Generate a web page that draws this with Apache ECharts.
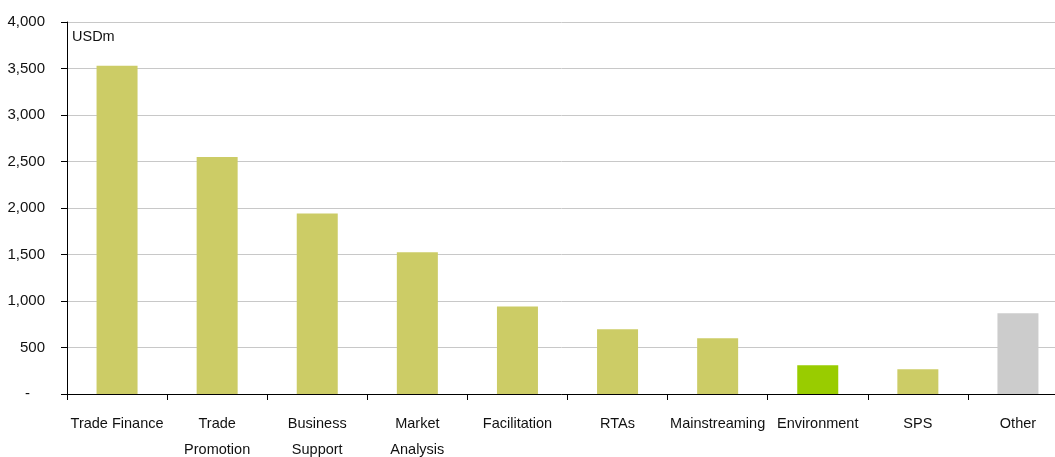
<!DOCTYPE html>
<html>
<head>
<meta charset="utf-8">
<script src="https://cdn.jsdelivr.net/npm/echarts@6/dist/echarts.min.js"></script>
<style>
html,body{margin:0;padding:0;background:#fff;}
#chart{width:1055px;height:457px;}
</style>
</head>
<body>
<div id="chart"></div>
<script>
const categories = ['Trade Finance', 'Trade\nPromotion', 'Business\nSupport', 'Market\nAnalysis', 'Facilitation', 'RTAs', 'Mainstreaming', 'Environment', 'SPS', 'Other'];
const values = [3530, 2548, 1940, 1525, 940, 697, 600, 309, 266, 869];
const barColors = ['#CCCC66', '#CCCC66', '#CCCC66', '#CCCC66', '#CCCC66', '#CCCC66', '#CCCC66', '#99CC00', '#CCCC66', '#CCCCCC'];
const yTicks = [0, 500, 1000, 1500, 2000, 2500, 3000, 3500, 4000];
const unitLabel = 'USDm';

const chart = echarts.init(document.getElementById('chart'), null, {renderer: 'canvas'});
const font = '"Liberation Sans", Arial, sans-serif';
chart.setOption({
  animation: false,
  grid: {left: 67, right: -13, top: 22, bottom: 63, containLabel: false, outerBoundsMode: 'none'},
  xAxis: {
    type: 'category',
    data: categories,
    axisLine: {lineStyle: {color: '#000', width: 1}},
    axisTick: {show: true, length: 6, lineStyle: {color: '#000'}, alignWithLabel: false},
    axisLabel: {color: '#111', fontFamily: font, fontSize: 14.5, lineHeight: 26, margin: 17, interval: 0}
  },
  yAxis: {
    type: 'value',
    min: yTicks[0],
    max: yTicks[yTicks.length - 1],
    interval: 500,
    axisLine: {show: true, lineStyle: {color: '#000', width: 1}},
    axisTick: {show: true, length: 6, lineStyle: {color: '#000'}},
    splitLine: {lineStyle: {color: '#C8C8C8', width: 1}},
    axisLabel: {
      color: '#111', fontFamily: font, fontSize: 15, margin: 22,
      formatter: v => v === 0 ? '{d|-}' : v.toLocaleString('en-US'),
      rich: {d: {padding: [0, 15, 0, 0], color: '#111', fontFamily: font, fontSize: 15}}
    }
  },
  graphic: [{
    type: 'text', left: 72, top: 29,
    style: {text: unitLabel, fill: '#111', font: '14.5px ' + font}
  }],
  series: [{
    type: 'bar',
    barWidth: 41,
    data: values.map((v, i) => ({value: v, itemStyle: {color: barColors[i]}}))
  }]
});
</script>
</body>
</html>
